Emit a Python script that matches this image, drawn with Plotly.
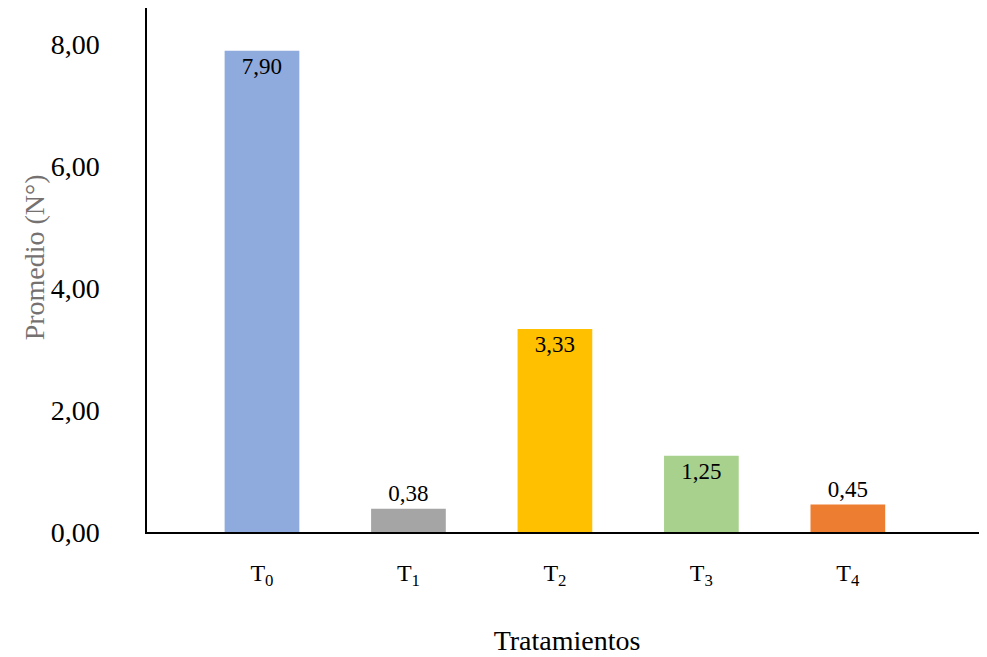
import plotly.graph_objects as go

categories = ["T<sub>0</sub>", "T<sub>1</sub>", "T<sub>2</sub>", "T<sub>3</sub>", "T<sub>4</sub>"]
values = [7.90, 0.38, 3.33, 1.25, 0.45]
labels = ["7,90", "0,38", "3,33", "1,25", "0,45"]
colors = ["#8FAADC", "#A5A5A5", "#FFC000", "#A9D18E", "#ED7D31"]
positions = ["inside", "outside", "inside", "inside", "outside"]
y_title = "Promedio (N°)"
x_title = "Tratamientos"

FONT = "Liberation Serif"

fig = go.Figure()
fig.add_trace(go.Bar(
    x=categories, y=values,
    marker=dict(color=colors, line=dict(width=0)),
    width=0.51,
    text=labels, textposition=positions,
    insidetextanchor="end",
    textfont=dict(family=FONT, size=23, color="#000000"),
    cliponaxis=False,
))

fig.update_layout(
    width=987, height=657,
    margin=dict(l=139, r=8, t=0, b=133, autoexpand=False),
    paper_bgcolor="white", plot_bgcolor="white",
    separators=",.",
    showlegend=False,
    font=dict(family=FONT, color="#000000"),
    annotations=[dict(
        text=y_title, textangle=-90,
        xref="paper", yref="paper",
        x=-0.134, y=0.525, xanchor="center", yanchor="middle",
        showarrow=False,
        font=dict(family=FONT, size=28, color="#767171"),
    )],
)
fig.update_xaxes(
    range=[-0.785, 4.95],
    showline=True, linecolor="#000000", linewidth=1.5,
    showgrid=False, ticks="",
    ticklabelstandoff=18,
    tickfont=dict(family=FONT, size=24, color="#000000"),
    title=dict(text=x_title, font=dict(family=FONT, size=28, color="#000000"), standoff=42),
    automargin=False,
)
fig.update_yaxes(
    range=[0, 8.6],
    tickvals=[0, 2, 4, 6, 8],
    tickformat=".2f",
    showline=True, linecolor="#000000", linewidth=1.5,
    showgrid=False, zeroline=False, ticks="",
    ticklabelstandoff=40,
    tickfont=dict(family=FONT, size=28, color="#000000"),
    automargin=False,
)

fig.write_html("out.html")
